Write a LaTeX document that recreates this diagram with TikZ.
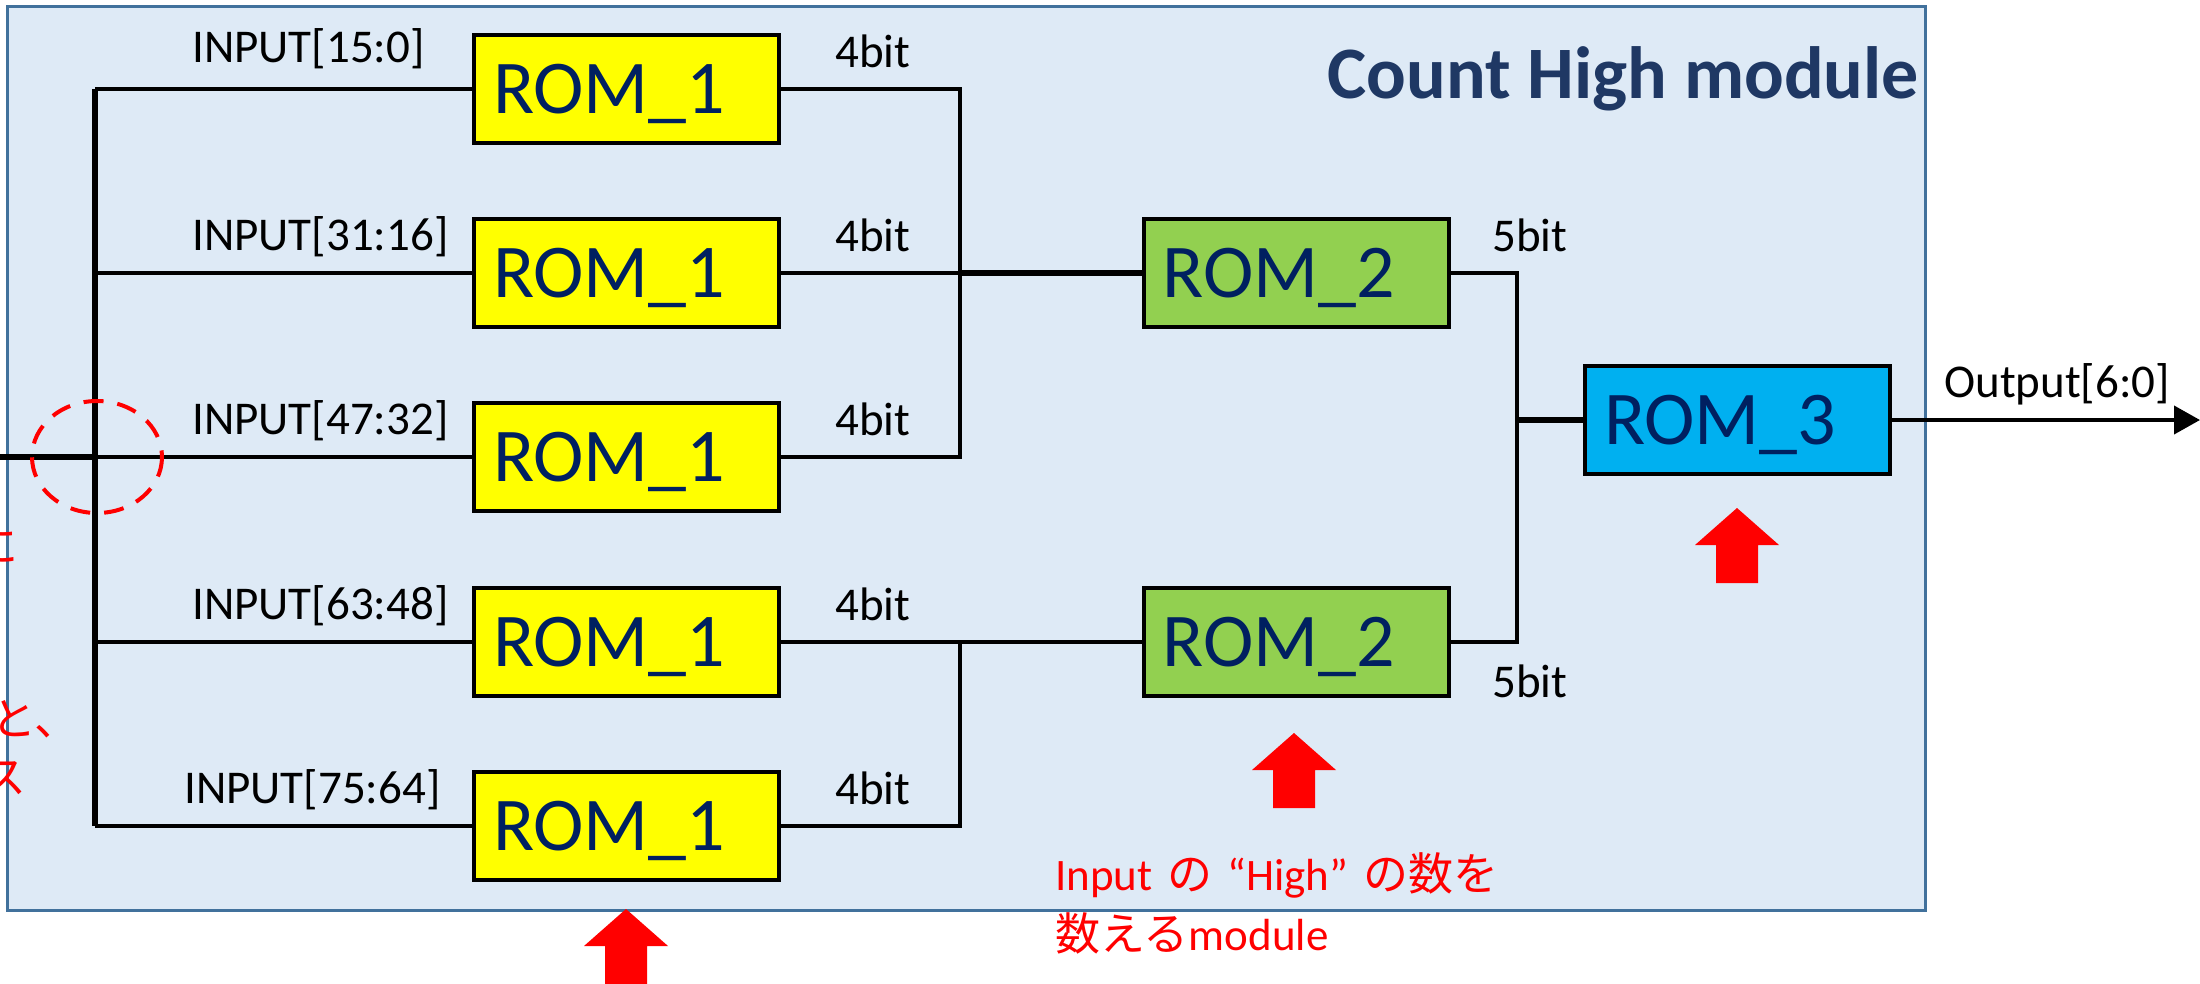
\documentclass[tikz,border=0pt]{standalone}
\usepackage{fontspec}
\setmainfont{Carlito}
\newfontfamily\jpfont{Noto Sans CJK JP}
\usetikzlibrary{arrows.meta}

\definecolor{panelfill}{HTML}{DEEAF6}
\definecolor{panelline}{HTML}{41719C}
\definecolor{romtext}{HTML}{002060}
\definecolor{titlenavy}{HTML}{1F3864}
\definecolor{romyellow}{HTML}{FFFF00}
\definecolor{romgreen}{HTML}{92D050}
\definecolor{romcyan}{HTML}{00B0F0}
\definecolor{notered}{HTML}{FF0000}

\newcommand{\gap}{\hspace{15pt}}

\tikzset{
  rombox/.style={draw=black, line width=4pt, minimum width=305pt, minimum height=108pt,
    text width=267pt, align=left, inner xsep=19pt, inner ysep=0pt,
    text height=49pt, text depth=0pt, font=\fontsize{76}{84}\selectfont, text=romtext},
  wire/.style={line width=4pt, draw=black},
  bus/.style={line width=5.5pt, draw=black},
  sig/.style={font=\fontsize{47}{56}\selectfont, inner sep=0pt, anchor=base west},
  note/.style={font=\fontsize{45}{54}\selectfont, text=notered, inner sep=0pt, anchor=base west},
  pics/uparrow/.style={code={
    \fill[notered] (0,0) -- (42,37) -- (21,37) -- (21,75) -- (-21,75) -- (-21,37) -- (-42,37) -- cycle;}}
}

\begin{document}
\begin{tikzpicture}[x=1pt, y=-1pt]
\useasboundingbox (0,0) rectangle (2200,983);

% module frame
\draw[fill=panelfill, draw=panelline, line width=3pt] (7,6) rectangle (1925,910);
\node[font=\fontsize{74}{84}\selectfont\bfseries, text=titlenavy, inner sep=0pt, anchor=base east] (title) at (1919,98) {Count High module};

% ROM blocks
\node[rombox, fill=romyellow] (r1) at (626.5,89)  {ROM\_1};
\node[rombox, fill=romyellow] (r2) at (626.5,273) {ROM\_1};
\node[rombox, fill=romyellow] (r3) at (626.5,457) {ROM\_1};
\node[rombox, fill=romyellow] (r4) at (626.5,642) {ROM\_1};
\node[rombox, fill=romyellow] (r5) at (626.5,826) {ROM\_1};
\node[rombox, fill=romgreen]  (m1) at (1296,273)  {ROM\_2};
\node[rombox, fill=romgreen]  (m2) at (1296,642)  {ROM\_2};
\node[rombox, fill=romcyan]   (m3) at (1737.5,420) {ROM\_3};

% junction points
\coordinate (inlet)  at (0,457);
\coordinate (busin)  at (95,457);
\coordinate (j1)     at (960,273);
\coordinate (j2)     at (960,642);
\coordinate (j3)     at (1517,420);
\coordinate (outlet) at (2200,420);

% input bus and its branches
\draw[bus] (inlet) -- (busin);
\draw[bus] (r1.west -| busin) -- (r5.west -| busin);
\foreach \n in {r1,r2,r3,r4,r5}
  \draw[wire] (\n.west -| busin) -- (\n.west);

% first adder stage
\draw[wire] (r1.east) -| (j1) |- (r3.east);
\draw[wire] (r2.east) -- (j1);
\draw[bus]  (j1) -- (m1.west);
\draw[wire] (r4.east) -- (m2.west);
\draw[wire] (r5.east) -| (j2);

% second adder stage
\draw[wire] (m1.east) -| (j3) |- (m2.east);
\draw[bus]  (j3) -- (m3.west);
\draw[wire, -{Triangle[length=26pt, width=28pt]}] (m3.east) -- (outlet);

% signal labels
\node[sig] (l1) at (192,62)  {INPUT[15:0]};
\node[sig] (l2) at (192,250) {INPUT[31:16]};
\node[sig] (l3) at (192,434) {INPUT[47:32]};
\node[sig] (l4) at (192,619) {INPUT[63:48]};
\node[sig] (l5) at (184,803) {INPUT[75:64]};
\node[sig] (b1) at (835,67)  {4bit};
\node[sig] (b2) at (835,251) {4bit};
\node[sig] (b3) at (835,435) {4bit};
\node[sig] (b4) at (835,620) {4bit};
\node[sig] (b5) at (835,804) {4bit};
\node[sig] (c1) at (1492,251) {5bit};
\node[sig] (c2) at (1492,697) {5bit};
\node[sig] (o1) at (1944,397) {Output[6:0]};

% highlight around the input split
\draw[notered, line width=4pt, dash pattern=on 20pt off 14pt] (97,457) ellipse [x radius=65, y radius=56];

% pointer arrows
\pic at (626,909)  {uparrow};
\pic at (1294,733) {uparrow};
\pic at (1737,508) {uparrow};

% notes
\node[note] (n1) at (1055,890) {Input\gap{\jpfont の}\gap“High”\gap{\jpfont の数を}};
\node[note] (n2) at (1055,950) {{\jpfont 数える}module};
\node[note, anchor=base] (n3) at (-4,562) {\jpfont に};
\node[note, anchor=base west] (n4) at (-9,735) {\jpfont と、};
\node[note, anchor=base] (n5) at (4,793) {\jpfont ス};
\end{tikzpicture}
\end{document}
